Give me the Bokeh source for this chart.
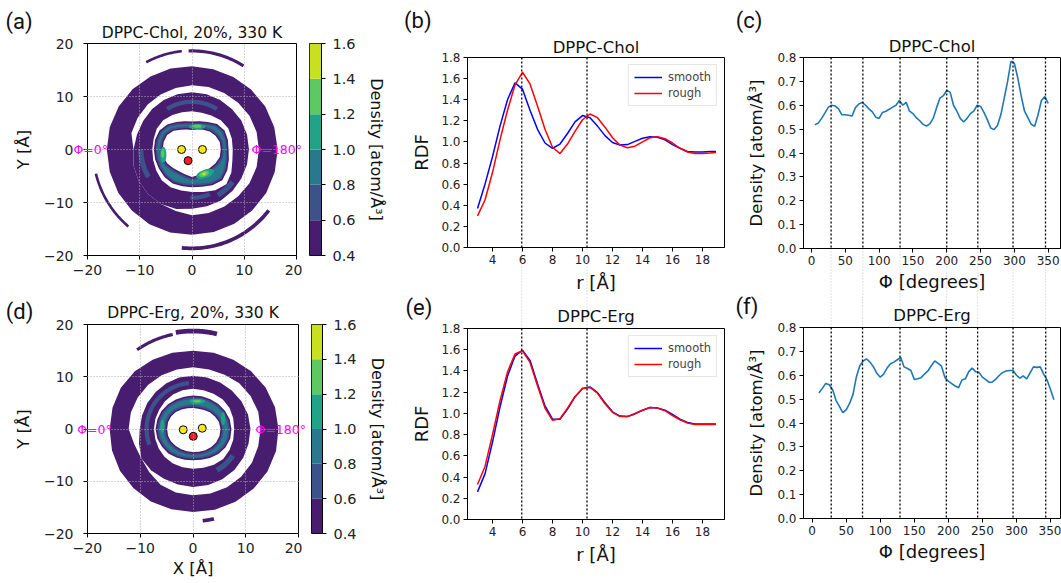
import numpy as np
from bokeh.plotting import figure
from bokeh.models import Span, Label
from bokeh.embed import file_html
from bokeh.resources import INLINE

# ---------------- RDF data (panels b, e) ----------------
R = [3.0, 3.5, 4.0, 4.5, 5.0, 5.5, 6.0, 6.5, 7.0, 7.5, 8.0, 8.5, 9.0, 9.5, 10.0, 10.5,
     11.0, 11.5, 12.0, 12.5, 13.0, 13.5, 14.0, 14.5, 15.0, 15.5, 16.0, 16.5, 17.0, 17.5,
     18.0, 18.5, 18.9]
CHOL_SMOOTH = [0.37, 0.60, 0.86, 1.15, 1.40, 1.56, 1.50, 1.30, 1.12, 0.99, 0.94, 0.98, 1.08,
               1.19, 1.25, 1.23, 1.15, 1.06, 0.995, 0.97, 0.975, 1.005, 1.035, 1.05, 1.045,
               1.02, 0.975, 0.94, 0.91, 0.905, 0.905, 0.91, 0.91]
CHOL_ROUGH = [0.30, 0.45, 0.71, 1.02, 1.30, 1.54, 1.66, 1.55, 1.34, 1.12, 0.95, 0.89, 0.98,
              1.10, 1.21, 1.265, 1.23, 1.14, 1.04, 0.97, 0.945, 0.96, 1.00, 1.04, 1.05, 1.03,
              0.99, 0.94, 0.905, 0.89, 0.89, 0.895, 0.90]
ERG_SMOOTH = [0.26, 0.43, 0.73, 1.06, 1.35, 1.54, 1.595, 1.50, 1.28, 1.07, 0.945, 0.945, 1.04,
              1.155, 1.235, 1.25, 1.195, 1.10, 1.015, 0.975, 0.97, 0.995, 1.03, 1.055, 1.05,
              1.03, 0.99, 0.945, 0.915, 0.90, 0.90, 0.90, 0.90]
ERG_ROUGH = [0.33, 0.50, 0.80, 1.12, 1.39, 1.56, 1.59, 1.48, 1.26, 1.05, 0.935, 0.95, 1.05,
             1.16, 1.235, 1.245, 1.19, 1.09, 1.01, 0.97, 0.97, 1.00, 1.03, 1.055, 1.05, 1.025,
             0.98, 0.94, 0.91, 0.895, 0.895, 0.895, 0.895]
RDF_MARKS = [5.95, 10.3]

# ---------------- angular density (panels c, f) ----------------
PHI_CHOL = list(range(5, 355, 5))
DENS_CHOL = [0.518, 0.525, 0.545, 0.568, 0.592, 0.600, 0.597, 0.585, 0.560, 0.560, 0.558, 0.555,
             0.590, 0.605, 0.612, 0.600, 0.585, 0.572, 0.550, 0.545, 0.570, 0.575, 0.583, 0.592,
             0.600, 0.620, 0.600, 0.612, 0.575, 0.565, 0.548, 0.535, 0.520, 0.513, 0.522, 0.545,
             0.590, 0.630, 0.640, 0.662, 0.655, 0.600, 0.575, 0.545, 0.530, 0.545, 0.565, 0.575,
             0.600, 0.595, 0.570, 0.540, 0.505, 0.498, 0.515, 0.560, 0.630, 0.700, 0.785, 0.775,
             0.715, 0.640, 0.575, 0.548, 0.520, 0.512, 0.560, 0.620, 0.636, 0.608]
PHI_ERG = list(range(10, 360, 5))
DENS_ERG = [0.526, 0.545, 0.566, 0.560, 0.540, 0.495, 0.470, 0.443, 0.455, 0.482, 0.520, 0.594,
            0.640, 0.660, 0.668, 0.655, 0.635, 0.608, 0.592, 0.605, 0.630, 0.648, 0.655, 0.665,
            0.675, 0.635, 0.628, 0.620, 0.582, 0.585, 0.590, 0.605, 0.618, 0.640, 0.660, 0.650,
            0.638, 0.590, 0.575, 0.565, 0.555, 0.548, 0.580, 0.585, 0.615, 0.630, 0.615, 0.612,
            0.592, 0.582, 0.570, 0.572, 0.585, 0.600, 0.612, 0.618, 0.620, 0.620, 0.600, 0.588,
            0.597, 0.585, 0.610, 0.635, 0.633, 0.635, 0.605, 0.580, 0.540, 0.497]
CHOL_MARKS = [29, 76, 131, 200, 246, 298, 346]
ERG_MARKS = [28, 74, 129, 197, 243, 295, 343]

# ---------------- density maps (panels a, d) ----------------
LEVELS = [0.4, 0.6, 0.8, 1.0, 1.2, 1.4, 1.6]
LEVEL_COLORS = ["#481c6e", "#3b528b", "#2a788e", "#20a386", "#5ec962", "#c8e020"]
THETA = list(range(0, 360, 15))   # boundary sampling angles (deg, from +X, counter-clockwise)
# ring boundaries (radius in Angstrom at each THETA): hole, inner ring out, middle ring in/out, outer ring in/out
CHOL_B = [
    [5.5, 5.5, 5.2, 4.8, 4.3, 3.9, 3.7, 3.9, 4.3, 5.0, 5.5, 5.6, 5.6, 5.7, 5.4, 5.0, 4.8, 4.9, 5.2, 5.0, 4.8, 4.9, 5.2, 5.5],
    [7.0, 7.1, 7.2, 6.8, 6.0, 5.5, 5.3, 5.5, 6.0, 6.7, 7.2, 7.3, 7.3, 7.3, 7.3, 7.4, 7.4, 7.2, 7.1, 7.3, 7.8, 8.2, 7.8, 7.3],
    [7.8, 7.9, 8.0, 7.8, 7.4, 7.2, 7.2, 7.3, 7.5, 7.8, 7.8, 7.6, 7.6, 7.7, 7.9, 8.2, 8.2, 8.0, 8.0, 8.3, 8.9, 9.3, 8.7, 8.0],
    [10.9, 10.9, 10.9, 10.8, 10.8, 10.8, 10.8, 10.8, 10.8, 10.8, 10.8, 10.9, 11.2, 11.6, 11.8, 11.9, 11.9, 11.6, 11.2, 11.1, 11.1, 11.0, 10.9, 10.9],
    [12.8, 12.8, 12.7, 12.5, 12.3, 12.2, 12.1, 12.0, 12.0, 12.0, 12.0, 12.0, 11.2, 11.6, 11.8, 11.9, 11.9, 12.0, 12.4, 12.4, 12.4, 12.5, 12.7, 12.8],
    [16.4, 16.3, 16.2, 16.0, 15.8, 15.7, 15.7, 15.8, 15.9, 16.1, 16.2, 16.3, 16.3, 16.3, 16.3, 16.3, 16.3, 16.2, 16.1, 16.1, 16.2, 16.3, 16.4, 16.4],
]
ERG_B = [
    [5.2, 5.1, 4.8, 4.5, 4.2, 4.0, 4.0, 4.1, 4.3, 4.6, 4.8, 4.9, 4.9, 4.9, 4.8, 4.6, 4.5, 4.4, 4.4, 4.5, 4.7, 4.9, 5.1, 5.2],
    [7.3, 7.2, 7.0, 6.8, 6.6, 6.5, 6.4, 6.4, 6.5, 6.7, 6.9, 7.0, 7.1, 7.0, 6.8, 6.6, 6.3, 6.1, 6.0, 6.1, 6.4, 6.8, 7.1, 7.3],
    [7.8, 7.9, 8.0, 8.0, 7.8, 7.7, 7.7, 7.7, 7.6, 7.5, 7.4, 7.4, 7.4, 7.4, 7.5, 7.6, 7.6, 7.6, 7.6, 7.7, 7.9, 8.1, 8.0, 7.9],
    [10.9, 10.8, 10.6, 10.4, 10.3, 10.2, 10.2, 10.2, 10.1, 10.0, 10.0, 10.0, 10.1, 10.6, 11.3, 11.2, 11.0, 11.0, 11.1, 11.1, 11.1, 11.1, 11.0, 10.9],
    [12.8, 12.8, 12.6, 12.4, 12.0, 11.8, 11.8, 11.8, 11.9, 12.0, 12.1, 12.2, 12.2, 11.5, 11.3, 11.7, 12.3, 12.6, 12.7, 12.8, 12.9, 12.9, 12.9, 12.8],
    [16.2, 16.1, 15.9, 15.6, 15.3, 15.1, 15.0, 15.1, 15.3, 15.6, 15.8, 15.8, 15.8, 15.9, 16.0, 16.0, 16.0, 15.9, 15.9, 16.0, 16.1, 16.2, 16.3, 16.3],
]
# arc patches: start angle, end angle, inner radius, outer radius, level index
CHOL_ARC_T1 = [58, 96, 194, 264, 58, 180, 300, 268]
CHOL_ARC_T2 = [92, 118, 230, 322, 122, 212, 322, 292]
CHOL_ARC_RIN = [18.3, 18.4, 18.7, 18.3, 8.6, 9.3, 9.4, 8.7]
CHOL_ARC_ROUT = [18.9, 18.9, 19.2, 19.0, 9.4, 10.3, 10.4, 9.5]
CHOL_ARC_LEV = [0, 0, 0, 0, 1, 1, 1, 1]
ERG_ARC_T1 = [76, 102, 276, 95, 300]
ERG_ARC_T2 = [100, 125, 283, 200, 326]
ERG_ARC_RIN = [18.3, 18.2, 17.3, 8.4, 8.6]
ERG_ARC_ROUT = [19.2, 18.8, 18.0, 9.2, 9.6]
ERG_ARC_LEV = [0, 0, 0, 1, 1]
# high density spots in the first shell
CHOL_SPOT_X = [1.0, -5.5, 2.5, 1.0, -5.6, 2.3, 2.3]
CHOL_SPOT_Y = [4.3, -1.0, -4.6, 4.4, -0.8, -4.6, -4.6]
CHOL_SPOT_W = [3.2, 1.2, 3.6, 1.6, 0.6, 2.0, 0.8]
CHOL_SPOT_H = [1.0, 3.0, 1.6, 0.6, 1.5, 1.0, 0.5]
CHOL_SPOT_A = [0, 0, 20, 0, 0, 20, 20]
CHOL_SPOT_LEV = [3, 3, 3, 4, 4, 4, 5]
ERG_SPOT_X = [0.8, -5.8, 5.7, 0.8]
ERG_SPOT_Y = [5.3, 0.5, 2.0, 5.3]
ERG_SPOT_W = [3.0, 0.8, 0.8, 1.4]
ERG_SPOT_H = [1.0, 2.5, 2.5, 0.5]
ERG_SPOT_A = [0, 0, 0, 0]
ERG_SPOT_LEV = [3, 3, 3, 4]
# sterol atoms at the centre
CHOL_ATOM_X = [-2.0, 2.0, -0.75]
CHOL_ATOM_Y = [0.0, 0.0, -2.1]
ERG_ATOM_X = [-1.85, 1.75, 0.05]
ERG_ATOM_Y = [-0.15, 0.15, -1.4]
ATOM_COLORS = ["#ffe81a", "#ffe81a", "#f02020"]

TICK_FONT = "DejaVu Sans"
MINUS = {-20: "\u221220", -10: "\u221210", 0: "0", 10: "10", 20: "20"}
ANG = "\u00c5"


def new_fig(geo, **kw):
    left, top, w, h, bl, br, bt, bb = geo
    p = figure(width=w, height=h, min_border_left=bl, min_border_right=br,
               min_border_top=bt, min_border_bottom=bb, output_backend="svg",
               toolbar_location=None, **kw)
    p.styles = {"position": "absolute", "left": "%dpx" % left, "top": "%dpx" % top}
    return p


def twin_fig(geo, xr, yr, extra_right=0):
    """transparent canvas over the same page area, sharing the data scale of the panel"""
    left, top, w, h, bl, br, bt, bb = geo
    sx = (xr[1] - xr[0]) / float(w - bl - br)
    sy = (yr[1] - yr[0]) / float(h - bt - bb)
    br2 = br + extra_right
    txr = (xr[0] - bl * sx, xr[1] + br2 * sx)
    tyr = (yr[0] - bb * sy, yr[1] + bt * sy)
    p = figure(width=w + extra_right, height=h, x_range=txr, y_range=tyr, min_border=0,
               x_axis_location=None, y_axis_location=None, output_backend="svg",
               toolbar_location=None)
    for g in p.grid:
        g.visible = False
    p.outline_line_color = None
    p.background_fill_alpha = 0
    p.border_fill_alpha = 0
    p.styles = {"position": "absolute", "left": "%dpx" % left, "top": "%dpx" % top}
    return p, txr, tyr


def style_axes(p, tick_size, label_size):
    for ax in p.axis:
        ax.major_label_text_font = TICK_FONT
        ax.major_label_text_font_size = tick_size
        ax.major_label_text_color = "#222222"
        ax.axis_label_text_font = TICK_FONT
        ax.axis_label_text_font_size = label_size
        ax.axis_label_text_font_style = "normal"
        ax.axis_label_text_color = "#111111"
        ax.minor_tick_line_color = None
        ax.major_tick_in = 0
        ax.major_tick_out = 4
        ax.major_tick_line_color = "black"
        ax.axis_line_color = "black"
        ax.major_label_standoff = 3
    p.outline_line_color = "black"
    p.outline_line_width = 1
    p.title.text_font = TICK_FONT
    p.title.text_font_style = "normal"
    p.title.align = "center"
    p.title.text_color = "#111111"


def ring_poly(r_in, r_out, th):
    t = np.radians(np.array(th + [th[0]], dtype=float))
    ro = np.array(r_out + [r_out[0]], dtype=float)
    ri = np.array(r_in + [r_in[0]], dtype=float)
    return ([list(ro * np.cos(t)), list(ri * np.cos(t))],
            [list(ro * np.sin(t)), list(ri * np.sin(t))])


def inset_ring(b_in, b_out, d):
    rin, rout = [], []
    for a, b in zip(b_in, b_out):
        lo, hi = a + d, b - d
        if hi < lo + 0.15:
            m = 0.5 * (a + b)
            lo, hi = m - 0.07, m + 0.07
        rin.append(lo)
        rout.append(hi)
    return rin, rout


def map_figure(title, B, arcs, spots, atoms, with_xlabel, geo):
    p = new_fig(geo, x_range=(-20, 20), y_range=(-20, 20), title=title)
    style_axes(p, "14px", "16.5px")
    p.title.text_font_size = "15.5px"
    p.xaxis.ticker = [-20, -10, 0, 10, 20]
    p.yaxis.ticker = [-20, -10, 0, 10, 20]
    p.xaxis.major_label_overrides = MINUS
    p.yaxis.major_label_overrides = MINUS
    p.yaxis.major_label_standoff = 10
    p.xaxis.major_label_standoff = 5
    p.yaxis.axis_label = "Y [%s]" % ANG
    if with_xlabel:
        p.xaxis.axis_label = "X [%s]" % ANG
    p.yaxis.axis_label_standoff = 8
    p.xaxis.axis_label_standoff = 3
    p.grid.grid_line_color = "#b0b0b0"
    p.grid.grid_line_dash = "1 2"
    p.grid.grid_line_width = 1
    p.grid.level = "guide"
    xs, ys = [], []
    for k in range(3):
        px, py = ring_poly(B[2 * k], B[2 * k + 1], THETA)
        xs.append([px])
        ys.append([py])
    p.multi_polygons(xs=xs, ys=ys, fill_color=LEVEL_COLORS[0], line_color=None)
    for lev, d in ((1, 0.3), (2, 0.65)):
        ri, ro = inset_ring(B[0], B[1], d)
        px, py = ring_poly(ri, ro, THETA)
        p.multi_polygons(xs=[[px]], ys=[[py]], fill_color=LEVEL_COLORS[lev], line_color=None)
    t1, t2, rin, rout, lev = arcs
    for a, b, ri, ro, lv in zip(t1, t2, rin, rout, lev):
        t = np.radians(np.linspace(a, b, 40))
        ax_ = list(ro * np.cos(t)) + list(ri * np.cos(t[::-1]))
        ay_ = list(ro * np.sin(t)) + list(ri * np.sin(t[::-1]))
        p.patch(ax_, ay_, fill_color=LEVEL_COLORS[lv], line_color=None)
    sx, sy, sw, sh, sa, sl = spots
    p.ellipse(x=sx, y=sy, width=sw, height=sh, angle=np.radians(sa).tolist(),
              fill_color=[LEVEL_COLORS[v] for v in sl], line_color=None)
    p.scatter(x=atoms[0], y=atoms[1], size=8, fill_color=ATOM_COLORS, line_color="black", line_width=1)
    return p


def colorbar_figure(geo):
    p = new_fig(geo, x_range=(0, 1), y_range=(0.4, 1.6), x_axis_location=None, y_axis_location="right")
    p.quad(left=0, right=1, bottom=LEVELS[:-1], top=LEVELS[1:], fill_color=LEVEL_COLORS, line_color=None)
    style_axes(p, "14.5px", "16px")
    p.grid.visible = False
    p.yaxis.ticker = LEVELS
    p.yaxis.major_label_overrides = {v: "%.1f" % v for v in LEVELS}
    p.yaxis.major_label_standoff = 7
    p.yaxis.axis_label = "Density [atom/%s\u00b3]" % ANG
    p.yaxis.axis_label_standoff = 8
    return p


def rdf_figure(title, smooth, rough, geo):
    p = new_fig(geo, x_range=(2.333, 19.467), y_range=(0, 1.8), title=title)
    p.border_fill_alpha = 0
    style_axes(p, "12px", "18px")
    p.title.text_font_size = "16.5px"
    p.grid.visible = False
    p.xaxis.ticker = [4, 6, 8, 10, 12, 14, 16, 18]
    yt = [0.0, 0.2, 0.4, 0.6, 0.8, 1.0, 1.2, 1.4, 1.6, 1.8]
    p.yaxis.ticker = yt
    p.yaxis.major_label_overrides = {v: "%.1f" % v for v in yt}
    p.yaxis.axis_label = "RDF"
    p.xaxis.axis_label = "r [%s]" % ANG
    p.xaxis.axis_label_standoff = 5
    p.yaxis.axis_label_standoff = 6
    for m in RDF_MARKS:
        p.add_layout(Span(location=m, dimension="height", line_color="black", line_width=1.3,
                          line_dash="2 2"))
    p.line(R, smooth, line_color="#0000ff", line_width=1.5, legend_label="smooth")
    p.line(R, rough, line_color="#ff0000", line_width=1.5, legend_label="rough")
    lg = p.legend[0]
    lg.location = "top_right"
    lg.margin = 7
    lg.padding = 5
    lg.spacing = 2
    lg.glyph_width = 28
    lg.glyph_height = 14
    lg.label_height = 14
    lg.label_standoff = 6
    lg.label_text_font = TICK_FONT
    lg.label_text_font_size = "11.5px"
    lg.border_line_color = "#cccccc"
    lg.border_line_width = 1
    return p


def ang_figure(title, phi, dens, marks, xr, geo):
    p = new_fig(geo, x_range=xr, y_range=(0, 0.8), title=title)
    p.border_fill_alpha = 0
    style_axes(p, "12px", "16.5px")
    p.title.text_font_size = "16.5px"
    p.grid.visible = False
    p.xaxis.ticker = [0, 50, 100, 150, 200, 250, 300, 350]
    yt = [0.0, 0.1, 0.2, 0.3, 0.4, 0.5, 0.6, 0.7, 0.8]
    p.yaxis.ticker = yt
    p.yaxis.major_label_overrides = {v: "%.1f" % v for v in yt}
    p.yaxis.axis_label = "Density [atom/%s\u00b3]" % ANG
    p.xaxis.axis_label = "\u03a6 [degrees]"
    p.xaxis.axis_label_text_font_size = "18px"
    p.xaxis.axis_label_standoff = 3
    p.yaxis.axis_label_standoff = 8
    for m in marks:
        p.add_layout(Span(location=m, dimension="height", line_color="black", line_width=1.3,
                          line_dash="2 2"))
    p.line(phi, dens, line_color="#1f77b4", line_width=1.6)
    return p


def panel_label(p, txt, x, y):
    p.add_layout(Label(x=x, y=y, text=txt, text_font="Roboto", text_font_size="22px",
                       text_baseline="middle", text_align="left", text_color="#111111"))


def phi_labels(p, x0, x180):
    for x, t in ((x0, "\u03a6=0\u00b0"), (x180, "\u03a6=180\u00b0")):
        p.add_layout(Label(x=x, y=0, text=t, text_font=TICK_FONT, text_font_size="12.5px",
                           text_color="#ff00ff", text_baseline="middle", text_align="left"))


def guide_extension(p, marks, y_from, y_to):
    p.segment(x0=marks, y0=[y_from] * len(marks), x1=marks, y1=[y_to] * len(marks),
              line_color="#c4c4c4", line_width=1, line_dash="1 2")


# geometry: page left, page top, width, height, border left, right, top, bottom
G_A = (0, 0, 302, 295, 87, 6, 43, 40)
G_CBA = (302, 0, 98, 295, 7, 79, 43, 40)
G_B = (400, 0, 330, 295, 67, 6, 57, 47)
G_C = (730, 0, 331, 295, 73, 1, 57, 47)
G_D = (0, 295, 302, 288, 87, 4, 29, 50)
G_CBD = (302, 295, 98, 288, 9, 78, 29, 50)
G_E = (400, 295, 330, 288, 67, 6, 33, 64)
G_F = (730, 295, 331, 288, 73, 1, 32, 65)
XR_RDF = (2.333, 19.467)
XR_C = (-11.8, 368.2)
XR_F = (-12.7, 364.7)

fa = map_figure("DPPC-Chol, 20%, 330 K", CHOL_B,
                (CHOL_ARC_T1, CHOL_ARC_T2, CHOL_ARC_RIN, CHOL_ARC_ROUT, CHOL_ARC_LEV),
                (CHOL_SPOT_X, CHOL_SPOT_Y, CHOL_SPOT_W, CHOL_SPOT_H, CHOL_SPOT_A, CHOL_SPOT_LEV),
                (CHOL_ATOM_X, CHOL_ATOM_Y), False, G_A)
cba = colorbar_figure(G_CBA)
fb = rdf_figure("DPPC-Chol", CHOL_SMOOTH, CHOL_ROUGH, G_B)
fc = ang_figure("DPPC-Chol", PHI_CHOL, DENS_CHOL, CHOL_MARKS, XR_C, G_C)
fd = map_figure("DPPC-Erg, 20%, 330 K", ERG_B,
                (ERG_ARC_T1, ERG_ARC_T2, ERG_ARC_RIN, ERG_ARC_ROUT, ERG_ARC_LEV),
                (ERG_SPOT_X, ERG_SPOT_Y, ERG_SPOT_W, ERG_SPOT_H, ERG_SPOT_A, ERG_SPOT_LEV),
                (ERG_ATOM_X, ERG_ATOM_Y), True, G_D)
cbd = colorbar_figure(G_CBD)
fe = rdf_figure("DPPC-Erg", ERG_SMOOTH, ERG_ROUGH, G_E)
ff = ang_figure("DPPC-Erg", PHI_ERG, DENS_ERG, ERG_MARKS, XR_F, G_F)

for p, s in ((fa, 4), (fd, 5), (fb, 2), (fc, 3), (fe, 5), (ff, 6)):
    p.title.standoff = s

# overlays on the maps (labels straddle the frame edge)
ta, _, _ = twin_fig(G_A, (-20, 20), (-20, 20), extra_right=20)
phi_labels(ta, -22.7, 11.4)
panel_label(ta, "(a)", -35.7, 24.2)
td, _, _ = twin_fig(G_D, (-20, 20), (-20, 20), extra_right=20)
phi_labels(td, -21.95, 11.85)
panel_label(td, "(d)", -35.5, 22.5)

# underlays for the line panels (panel letters and faint guide extensions between rows)
tb, _, tyb = twin_fig(G_B, XR_RDF, (0, 1.8))
panel_label(tb, "(b)", -1.9, 2.149)
guide_extension(tb, RDF_MARKS, 0, tyb[0])
tc, _, tyc = twin_fig(G_C, XR_C, (0, 0.8))
panel_label(tc, "(c)", -112.0, 0.955)
guide_extension(tc, CHOL_MARKS, 0, tyc[0])
te, _, tye = twin_fig(G_E, XR_RDF, (0, 1.8))
panel_label(te, "(e)", -1.8, 2.0)
guide_extension(te, RDF_MARKS, 1.8, tye[1])
tf, _, tyf = twin_fig(G_F, XR_F, (0, 0.8))
panel_label(tf, "(f)", -112.6, 0.888)
guide_extension(tf, ERG_MARKS, 0.8, tyf[1])

roots = [tb, tc, te, tf, fa, cba, fb, fc, fd, cbd, fe, ff, ta, td]
open("out.html", "w").write(file_html(roots, INLINE))
